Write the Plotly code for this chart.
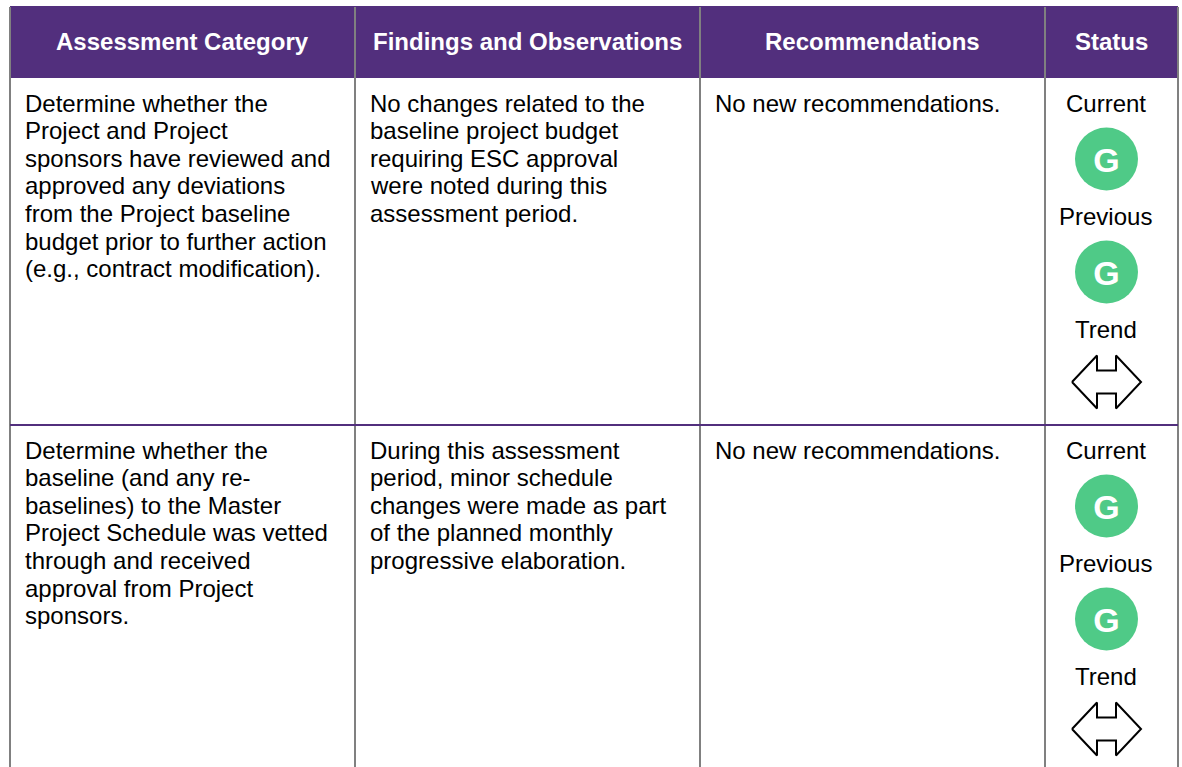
import plotly.graph_objects as go

headers = ["Assessment Category", "Findings and Observations", "Recommendations", "Status"]
column_edges = [10, 355, 700, 1045, 1178]
row_tops = [78, 425]

row1_category = ["Determine whether the", "Project and Project", "sponsors have reviewed and",
                 "approved any deviations", "from the Project baseline",
                 "budget prior to further action", "(e.g., contract modification)."]
row1_findings = ["No changes related to the", "baseline project budget", "requiring ESC approval",
                 "were noted during this", "assessment period."]
row2_category = ["Determine whether the", "baseline (and any re-", "baselines) to the Master",
                 "Project Schedule was vetted", "through and received",
                 "approval from Project", "sponsors."]
row2_findings = ["During this assessment", "period, minor schedule", "changes were made as part",
                 "of the planned monthly", "progressive elaboration."]
recommendations = ["No new recommendations."]
status_current = ["G", "G"]
status_previous = ["G", "G"]

PURPLE = "#522f7d"
GRAY = "#808080"
GREEN = "#4fca87"
FONT = "Liberation Sans"
BODY = 24
HEAD = 24
LINE_H = 27.65

fig = go.Figure()
ann = []
shapes = [dict(type="rect", x0=column_edges[0], x1=column_edges[-1], y0=6, y1=78,
               fillcolor=PURPLE, line_width=0, layer="below")]

for i, h in enumerate(headers):
    ann.append(dict(x=(column_edges[i] + column_edges[i + 1]) / 2, y=41, text=f"<b>{h}</b>",
                    showarrow=False, xanchor="center", yanchor="middle",
                    font=dict(family=FONT, size=HEAD, color="white")))

for xe in column_edges:
    shapes.append(dict(type="line", x0=xe, x1=xe, y0=7, y1=767, line=dict(color=GRAY, width=2), layer="above"))
shapes.append(dict(type="line", x0=column_edges[0], x1=column_edges[-1], y0=425, y1=425,
                   line=dict(color=PURPLE, width=2), layer="above"))


def add_lines(lines, x, top):
    for j, t in enumerate(lines):
        ann.append(dict(x=x, y=top + 25 + j * LINE_H, text=t, showarrow=False, xanchor="left", yanchor="middle",
                        font=dict(family=FONT, size=BODY, color="black")))


for top, cat, find in zip(row_tops, [row1_category, row2_category], [row1_findings, row2_findings]):
    add_lines(cat, column_edges[0] + 12.5, top)
    add_lines(find, column_edges[1] + 12.5, top)
    add_lines(recommendations, column_edges[2] + 12.5, top)

cx = 1106.5
for top, cur, prev in zip(row_tops, status_current, status_previous):
    for label, dy in [("Current", 25), ("Previous", 138), ("Trend", 251)]:
        ann.append(dict(x=cx - 1, y=top + dy, text=label, showarrow=False, xanchor="center", yanchor="middle",
                        font=dict(family=FONT, size=BODY, color="black")))
    fig.add_trace(go.Scatter(x=[cx, cx], y=[top + 81, top + 194], mode="markers", hoverinfo="skip",
                             marker=dict(size=63, color=GREEN, line_width=0)))
    fig.add_trace(go.Scatter(x=[cx, cx], y=[top + 85, top + 198], mode="text", text=[cur, prev],
                             textposition="middle center", hoverinfo="skip",
                             textfont=dict(family=FONT, size=34, color="white", weight="bold")))
    ay = top + 304
    dx = [-34.5, -9.5, -9.5, 9.5, 9.5, 34.5, 9.5, 9.5, -9.5, -9.5, -34.5]
    dy = [0, -26.5, -11.5, -11.5, -26.5, 0, 26.5, 11.5, 11.5, 26.5, 0]
    fig.add_trace(go.Scatter(x=[cx + a for a in dx], y=[ay + b for b in dy], mode="lines", hoverinfo="skip",
                             line=dict(color="black", width=2)))

fig.update_layout(width=1182, height=767, margin=dict(l=0, r=0, t=0, b=0), showlegend=False,
                  paper_bgcolor="white", plot_bgcolor="white", annotations=ann, shapes=shapes,
                  xaxis=dict(range=[0, 1182], visible=False, fixedrange=True),
                  yaxis=dict(range=[767, 0], visible=False, fixedrange=True))
fig.write_html("out.html", config={"displayModeBar": False},
               post_script="document.body.style.margin='0';document.body.style.overflow='hidden';")
